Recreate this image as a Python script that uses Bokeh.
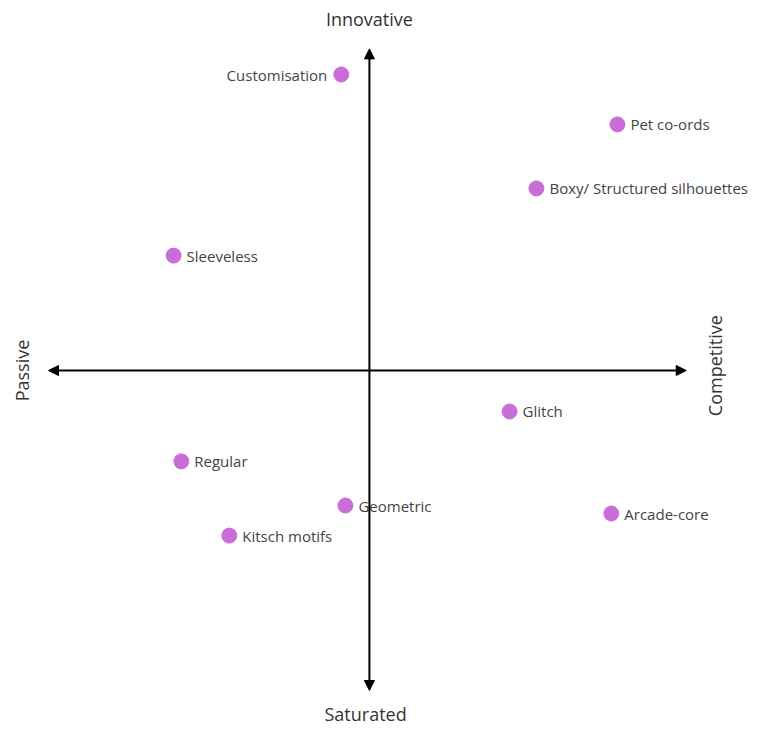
from bokeh.plotting import figure
from bokeh.models import Arrow, NormalHead, Label, Range1d, ColumnDataSource
from bokeh.core.properties import value
from bokeh.embed import file_html
from bokeh.resources import INLINE

# Data
names = ["Customisation", "Pet co-ords", "Boxy/ Structured silhouettes", "Sleeveless",
         "Glitch", "Regular", "Geometric", "Arcade-core", "Kitsch motifs"]
competitive = [-0.88, 7.75, 5.22, -6.12, 4.38, -5.88, -0.75, 7.56, -4.38]
innovative = [9.25, 7.69, 5.69, 3.59, -1.28, -2.84, -4.22, -4.47, -5.16]
left_labels = ["Customisation"]

W, H = 758, 726
p = figure(width=W, height=H, output_backend="svg", toolbar_location=None,
           x_range=Range1d(-11.53, 12.16), y_range=Range1d(-11.125, 11.5625),
           min_border=0)
p.axis.visible = False
p.grid.visible = False
p.outline_line_color = None
p.background_fill_color = "white"
p.border_fill_color = "white"

# Axes arrows
head = dict(size=10, fill_color="black", line_color="black")
p.add_layout(Arrow(x_start=-10.03, y_start=0, x_end=9.9, y_end=0, line_width=2, line_color="black",
                   start=NormalHead(**head), end=NormalHead(**head)))
p.add_layout(Arrow(x_start=0, y_start=-10.0, x_end=0, y_end=10.05, line_width=2, line_color="black",
                   start=NormalHead(**head), end=NormalHead(**head)))

# Axis labels
font_ax = "Open Sans"
ax_size = "18px"
ax_col = "#333333"
p.add_layout(Label(x=0, y=11.0, text="Innovative", text_align="center", text_baseline="middle",
                   text_font=font_ax, text_font_size=ax_size, text_color=ax_col))
p.add_layout(Label(x=-0.12, y=-10.72, text="Saturated", text_align="center", text_baseline="middle",
                   text_font=font_ax, text_font_size=ax_size, text_color=ax_col))
p.add_layout(Label(x=-10.85, y=0, text="Passive", text_align="center", text_baseline="middle",
                   angle=1.5708, text_font=font_ax, text_font_size=ax_size, text_color=ax_col))
p.add_layout(Label(x=10.81, y=0.15, text="Competitive", text_align="center", text_baseline="middle",
                   angle=1.5708, text_font=font_ax, text_font_size=ax_size, text_color=ax_col))

# Points
src = ColumnDataSource(dict(x=competitive, y=innovative, name=names))
p.scatter("x", "y", source=src, size=15, fill_color="#C96DD8", line_color="#C96DD8")

right_idx = [i for i, n in enumerate(names) if n not in left_labels]
left_idx = [i for i, n in enumerate(names) if n in left_labels]
rsrc = ColumnDataSource(dict(x=[competitive[i] for i in right_idx], y=[innovative[i] for i in right_idx],
                             t=[names[i] for i in right_idx]))
lsrc = ColumnDataSource(dict(x=[competitive[i] for i in left_idx], y=[innovative[i] for i in left_idx],
                             t=[names[i] for i in left_idx]))
p.text("x", "y", text="t", source=rsrc, x_offset=13, text_align="left", text_baseline="middle",
       text_font=value("Open Sans"), text_font_size="15px", text_color="#444444")
p.text("x", "y", text="t", source=lsrc, x_offset=-14, text_align="right", text_baseline="middle",
       text_font=value("Open Sans"), text_font_size="15px", text_color="#444444")

open("out.html", "w").write(file_html(p, INLINE))
